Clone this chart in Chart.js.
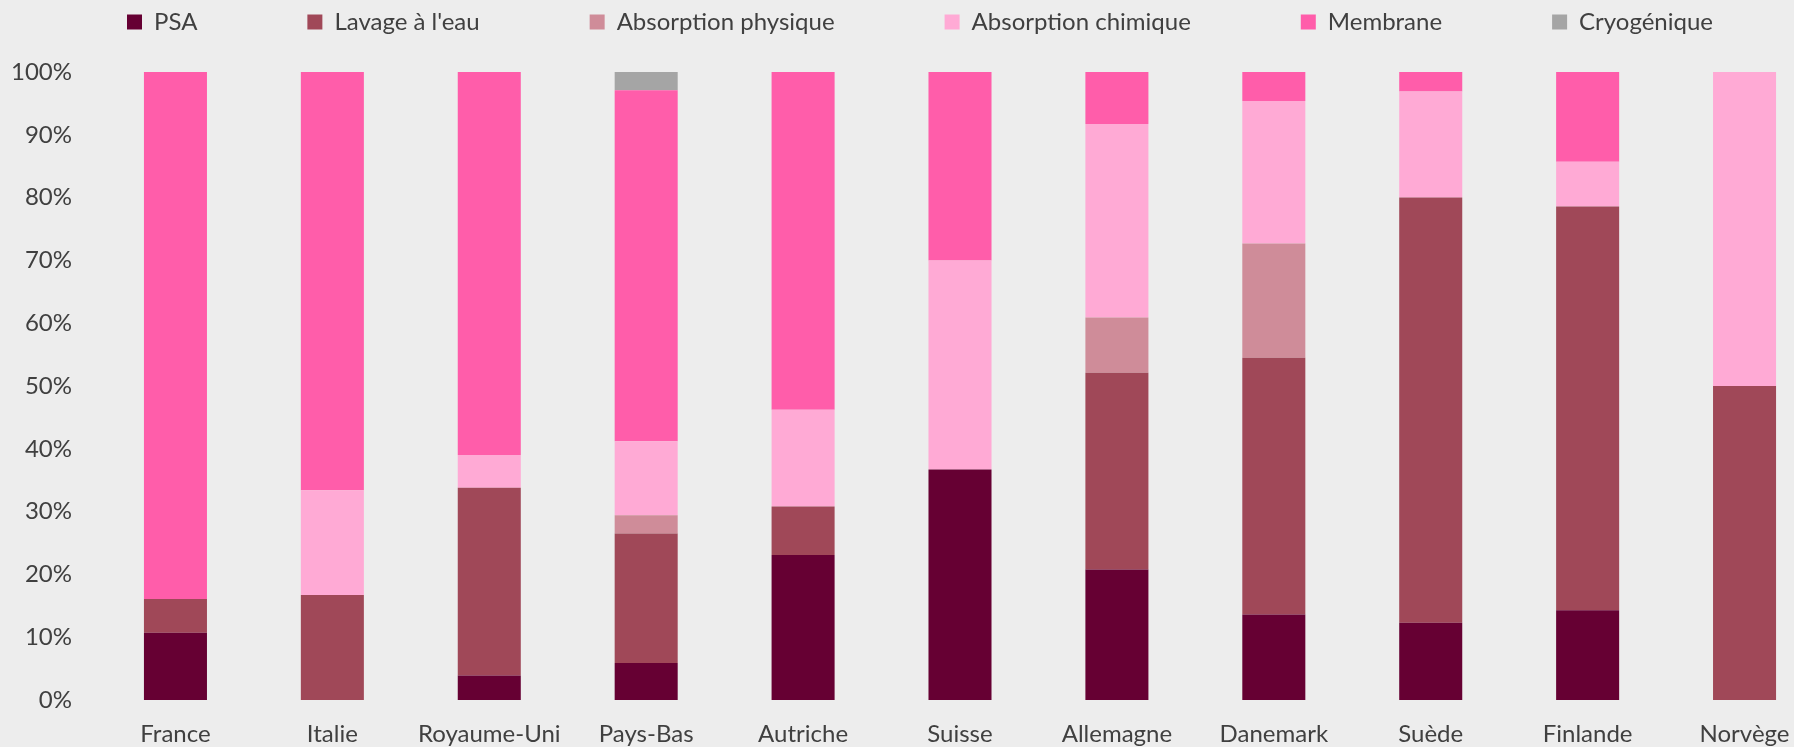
<!DOCTYPE html>
<html><head><meta charset="utf-8">
<script src="https://cdn.jsdelivr.net/npm/chart.js@4"></script>
<style>
html,body{margin:0;padding:0;background:#EDEDED;overflow:hidden;width:1794px;height:747px}
#wrap{position:absolute;left:0;top:0;width:1823px;height:747px}
</style>
</head><body><div id="wrap"><canvas id="c" width="1823" height="747" style="width:1823px;height:747px"></canvas></div>
<script>
const categories = ['France','Italie','Royaume-Uni','Pays-Bas','Autriche','Suisse','Allemagne','Danemark','Suède','Finlande','Norvège'];
const psa        = [10.7, 0,    3.9,  5.9,  23.1, 36.7, 20.8, 13.6, 12.3, 14.3, 0];
const lavage     = [5.4,  16.7, 29.9, 20.6, 7.7,  0,    31.3, 40.9, 67.7, 64.3, 50];
const physique   = [0,    0,    0,    2.9,  0,    0,    8.8,  18.2, 0,    0,    0];
const chimique   = [0,    16.7, 5.2,  11.8, 15.4, 33.3, 30.8, 22.7, 16.9, 7.1,  50];
const membrane   = [83.9, 66.6, 61.0, 55.9, 53.8, 30.0, 8.3,  4.6,  3.1,  14.3, 0];
const cryo       = [0,    0,    0,    2.9,  0,    0,    0,    0,    0,    0,    0];
const seriesNames = ['PSA', "Lavage à l'eau", 'Absorption physique', 'Absorption chimique', 'Membrane', 'Cryogénique'];
const yTicks = [0,10,20,30,40,50,60,70,80,90,100];

const colors = ['#660033', '#A04858', '#CF8C99', '#FFAAD5', '#FF5DAA', '#A5A5A5'];
const seriesData = [psa, lavage, physique, chimique, membrane, cryo];

const LEG_PAD = 110;
const LEG_CENTER = 920;
const legendShift = {
  id: 'legendShift',
  beforeUpdate(chart) {
    const lg = chart.legend;
    if (lg && !lg.__patched) {
      lg.__patched = true;
      const origFit = lg.fit;
      lg.fit = function () {
        const mw = this.maxWidth;
        this.maxWidth = mw + 600;
        origFit.call(this);
        this.maxWidth = mw;
        this.width = mw;
      };
    }
  },
  afterLayout(chart) {
    const lg = chart.legend;
    if (!lg) return;
    lg.top = 10 - LEG_PAD;
    lg.left = LEG_CENTER - 1400;
    lg.right = LEG_CENTER + 1400;
  }
};

Chart.defaults.font.family = 'Lato';
Chart.defaults.color = '#404040';

new Chart(document.getElementById('c'), {
  type: 'bar',
  data: {
    labels: categories,
    datasets: seriesData.map((d, i) => ({
      label: seriesNames[i],
      data: d,
      backgroundColor: colors[i],
      borderWidth: 0,
      categoryPercentage: 1,
      barPercentage: 0.4017
    }))
  },
  options: {
    responsive: false,
    animation: false,
    layout: { padding: 0 },
    plugins: {
      tooltip: { enabled: false },
      legend: {
        position: 'top',
        maxHeight: 72,
        labels: {
          boxWidth: 15,
          boxHeight: 15,
          padding: LEG_PAD,
          color: '#404040',
          font: { family: 'Lato', size: 24 }
        }
      }
    },
    scales: {
      x: {
        stacked: true,
        grid: { display: false, drawTicks: false },
        border: { display: false },
        ticks: { padding: 20, color: '#404040', font: { family: 'Lato', size: 24 }, maxRotation: 0, autoSkip: false },
        afterFit(s) { s.height = 47; }
      },
      y: {
        stacked: true,
        min: 0, max: 100,
        grid: { display: false, drawTicks: false },
        border: { display: false },
        afterBuildTicks(s) { s.ticks = yTicks.map(v => ({ value: v })); },
        ticks: { padding: 25, color: '#404040', font: { family: 'Lato', size: 24 }, callback: v => v + '%' },
        afterFit(s) { s.width = 97; }
      }
    }
  },
  plugins: [legendShift]
});
</script>
</body></html>
